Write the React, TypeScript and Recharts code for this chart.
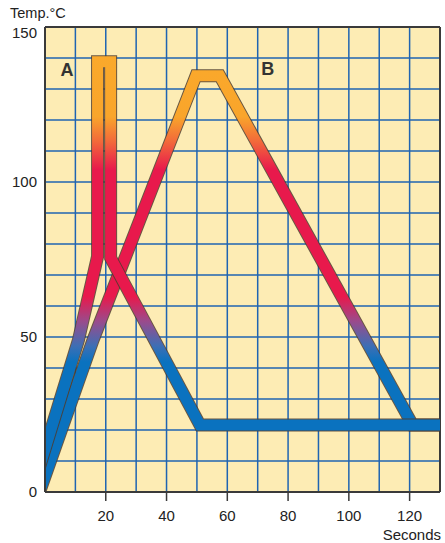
import React from 'react';
import { ComposedChart, Line, XAxis, YAxis, CartesianGrid, ReferenceLine, ReferenceDot } from 'recharts';

// axis ticks
const xGrid = [0, 10, 20, 30, 40, 50, 60, 70, 80, 90, 100, 110, 120, 130];
const xLabels = [20, 40, 60, 80, 100, 120];
const yGrid = [0, 10, 20, 30, 40, 50, 60, 70, 80, 90, 100, 110, 120, 130, 140, 150];
const yLabels = [0, 50, 100, 150];

// curve A: quick spike
const timesA = [-2, 11, 17.3, 17.3, 21.6, 21.6, 51, 132];
const tempsA = [7.5, 49, 76, 138.8, 138.8, 75.5, 21.6, 21.6];

// curve B: slow ramp
const timesB = [-1.8, 15.8, 49.7, 57.5, 121, 132];
const tempsB = [0, 49, 134.3, 134.3, 21.6, 21.6];

const rowsA = timesA.map((x, i) => ({ x, t: tempsA[i] }));
const rowsB = timesB.map((x, i) => ({ x, t: tempsB[i] }));

const W = 445;
const H = 543;
const TOP = 27;
const LEFT = 45;
const RIGHT = 5;
const BOTTOM_H = 51;
const PLOT_BOTTOM = H - BOTTOM_H;

const AXIS = '#3a3a3a';
const GRID = '#1f64b2';
const FONT = '"Liberation Sans", Arial, sans-serif';

const XTick = (props: any) => {
  const { x, payload } = props;
  if (!xLabels.includes(payload.value)) return <g />;
  return (
    <g>
      <line x1={x} y1={PLOT_BOTTOM} x2={x} y2={PLOT_BOTTOM + 9} stroke={AXIS} strokeWidth={1.5} />
      <text x={x} y={PLOT_BOTTOM + 29} textAnchor="middle" fontSize={15} fill="#222">
        {payload.value}
      </text>
    </g>
  );
};

const YTick = (props: any) => {
  const { y, payload } = props;
  if (!yLabels.includes(payload.value)) return <g />;
  const shift = payload.value === 150 ? 6 : 0;
  return (
    <text x={LEFT - 8} y={y + shift} dy="0.36em" textAnchor="end" fontSize={15} fill="#222">
      {payload.value}
    </text>
  );
};

export default function App() {
  return (
    <div style={{ position: 'absolute', left: 0, top: 0, width: W, height: H, fontFamily: FONT }}>
      <ComposedChart width={W} height={H} margin={{ top: TOP, right: RIGHT, bottom: 0, left: 0 }}>
        <defs>
          <linearGradient id="tempGrad" gradientUnits="userSpaceOnUse" x1={0} y1={TOP} x2={0} y2={PLOT_BOTTOM}>
            <stop offset={0} stopColor="#fbab2b" />
            <stop offset={0.193} stopColor="#f9a52b" />
            <stop offset={0.247} stopColor="#f2683a" />
            <stop offset={0.307} stopColor="#e8194c" />
            <stop offset={0.58} stopColor="#e8194c" />
            <stop offset={0.633} stopColor="#9a4b8c" />
            <stop offset={0.687} stopColor="#3c6fb5" />
            <stop offset={0.72} stopColor="#0a72bf" />
            <stop offset={1} stopColor="#0a72bf" />
          </linearGradient>
        </defs>
        <CartesianGrid stroke={GRID} strokeWidth={1.5} fill="#fdecb4" fillOpacity={1} />
        <XAxis
          type="number"
          dataKey="x"
          domain={[0, 130]}
          ticks={xGrid}
          allowDataOverflow
          height={BOTTOM_H}
          axisLine={{ stroke: AXIS, strokeWidth: 2 }}
          tickLine={false}
          tick={<XTick />}
          interval={0}
        />
        <YAxis
          type="number"
          domain={[0, 150]}
          ticks={yGrid}
          allowDataOverflow
          width={LEFT}
          axisLine={{ stroke: AXIS, strokeWidth: 2 }}
          tickLine={false}
          tick={<YTick />}
          interval={0}
        />
        <ReferenceLine y={150} stroke={AXIS} strokeWidth={2} />
        <ReferenceLine x={130} stroke={AXIS} strokeWidth={2} />

        <Line data={rowsB} dataKey="t" stroke="#4e3c2e" strokeOpacity={0.85} strokeWidth={13} dot={false} activeDot={false} isAnimationActive={false} />
        <Line data={rowsB} dataKey="t" stroke="url(#tempGrad)" strokeWidth={11} dot={false} activeDot={false} isAnimationActive={false} />
        <Line data={rowsA} dataKey="t" stroke="#4e3c2e" strokeOpacity={0.85} strokeWidth={13} dot={false} activeDot={false} isAnimationActive={false} />
        <Line data={rowsA} dataKey="t" stroke="url(#tempGrad)" strokeWidth={11} dot={false} activeDot={false} isAnimationActive={false} />

        <ReferenceDot x={7.2} y={136.3} r={0} fill="none" stroke="none"
          label={{ value: 'A', position: 'center', fontSize: 18, fontWeight: 700, fill: '#333' }} />
        <ReferenceDot x={73.3} y={136.6} r={0} fill="none" stroke="none"
          label={{ value: 'B', position: 'center', fontSize: 18, fontWeight: 700, fill: '#333' }} />
      </ComposedChart>
      <svg width={W} height={H} style={{ position: 'absolute', left: 0, top: 0, pointerEvents: 'none' }}>
        <text x={10} y={18} fontSize={14.5} fill="#222">Temp.°C</text>
        <text x={441} y={540} fontSize={15} textAnchor="end" fill="#222">Seconds</text>
      </svg>
    </div>
  );
}
